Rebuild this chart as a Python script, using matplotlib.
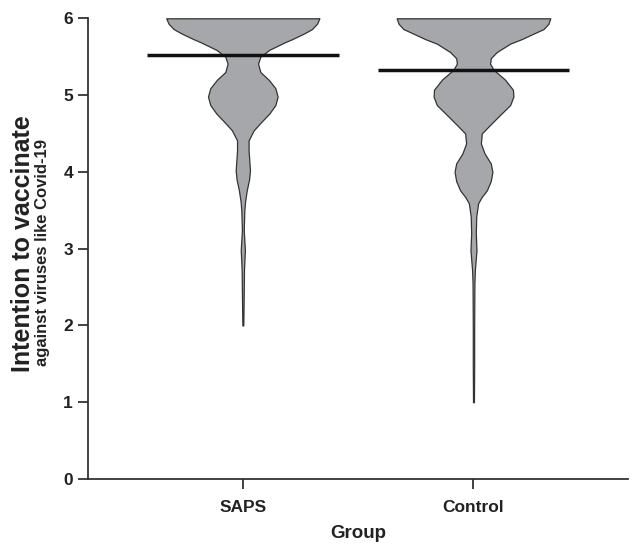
#!/usr/bin/env python3
"""Violin plot: intention to vaccinate by group."""

import matplotlib
matplotlib.use("Agg")
import matplotlib.pyplot as plt

plt.rcParams["font.family"] = ["Liberation Sans", "DejaVu Sans"]

groups = ["SAPS", "Control"]
group_means = [5.52, 5.33]

# violin outlines: score level and half-width (in category units)
saps_levels = [6.00, 5.93, 5.86, 5.80, 5.73, 5.69, 5.59, 5.50, 5.41, 5.30, 5.20,
               5.09, 4.98, 4.87, 4.76, 4.65, 4.54, 4.41, 4.28, 4.15, 4.02, 3.90,
               3.76, 3.62, 3.50, 3.24, 2.98, 2.72, 2.46, 2.20, 2.00]
saps_width = [0.332, 0.322, 0.300, 0.264, 0.215, 0.184, 0.115, 0.076, 0.066, 0.076, 0.112,
              0.141, 0.151, 0.141, 0.115, 0.080, 0.047, 0.025, 0.025, 0.028, 0.031, 0.027,
              0.017, 0.010, 0.0065, 0.004, 0.009, 0.005, 0.004, 0.003, 0.002]

control_levels = [6.00, 5.93, 5.86, 5.80, 5.73, 5.67, 5.56, 5.48, 5.41, 5.33, 5.20,
                  5.07, 4.98, 4.87, 4.72, 4.59, 4.50, 4.37, 4.24, 4.11, 4.00, 3.88,
                  3.76, 3.67, 3.59, 3.42, 3.20, 2.98, 2.72, 2.55, 2.00, 1.50, 1.00]
control_width = [0.333, 0.325, 0.304, 0.260, 0.210, 0.159, 0.101, 0.075, 0.072, 0.087, 0.137,
                 0.171, 0.173, 0.159, 0.108, 0.065, 0.036, 0.032, 0.048, 0.075, 0.082, 0.075,
                 0.058, 0.035, 0.020, 0.012, 0.010, 0.013, 0.006, 0.004, 0.003, 0.003, 0.002]

y_ticks = [0, 1, 2, 3, 4, 5, 6]

fig = plt.figure(figsize=(6.32, 5.46), dpi=100)
ax = fig.add_axes([0.1397, 0.1227, 0.8540, 0.8438])

profiles = [(saps_levels, saps_width), (control_levels, control_width)]
for i, (levels, width) in enumerate(profiles, start=1):
    left = [i - w for w in width]
    right = [i + w for w in width]
    ax.fill_betweenx(levels, left, right, facecolor="#a6a7aa",
                     edgecolor="#333333", linewidth=0.9, zorder=2)
    ax.plot([i - 0.416, i + 0.416], [group_means[i - 1]] * 2,
            color="#111111", linewidth=2.5, solid_capstyle="butt", zorder=3)

ax.set_xlim(1 - 0.67, 2 + 0.67)
ax.set_ylim(0, 6)
ax.set_xticks([1, 2])
ax.set_xticklabels(groups, fontsize=12.5, fontweight="bold", color="#222222")
ax.set_yticks(y_ticks)
ax.set_yticklabels([str(t) for t in y_ticks], fontsize=12.5, fontweight="bold",
                   color="#222222")
ax.tick_params(axis="both", length=7, width=1.3, color="#333333", pad=4)
ax.tick_params(axis="x", pad=8)

for side in ["top", "right"]:
    ax.spines[side].set_visible(False)
for side in ["left", "bottom"]:
    ax.spines[side].set_linewidth(1.3)
    ax.spines[side].set_color("#333333")

ax.set_xlabel("Group", fontsize=13.5, fontweight="bold", color="#222222", labelpad=7)

fig.text(23 / 632, 1 - 244 / 546, "Intention to vaccinate", rotation=90,
         ha="center", va="center", fontsize=18, fontweight="bold", color="#222222")
fig.text(43 / 632, 1 - 252 / 546, "against viruses like Covid-19", rotation=90,
         ha="center", va="center", fontsize=12, fontweight="bold", color="#222222")

fig.savefig("out.png", dpi=100)
